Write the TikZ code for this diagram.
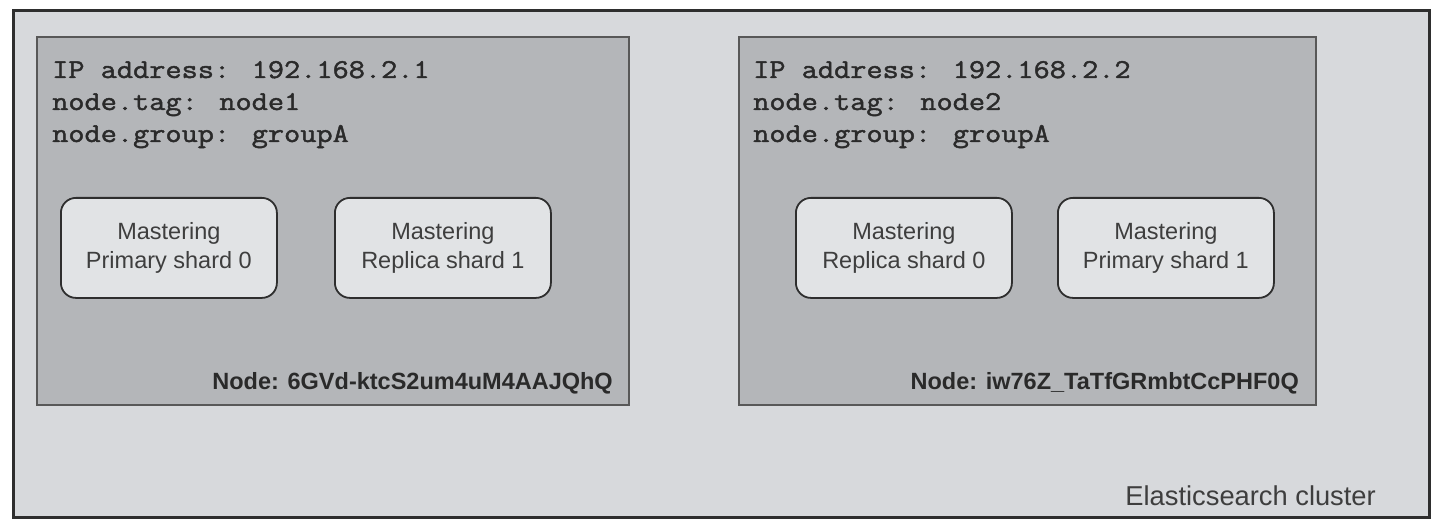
\documentclass[tikz,border=0pt]{standalone}
\usepackage{fontspec}
\setmainfont{Liberation Sans}
\newfontfamily\codefont[FakeBold=1.6,FakeStretch=1.155]{Latin Modern Mono}
\definecolor{clusterfill}{HTML}{D7D9DC}
\definecolor{nodefill}{HTML}{B4B6B9}
\definecolor{shardfill}{HTML}{E1E3E5}
\definecolor{edge}{HTML}{2E2E2E}
\definecolor{ink}{HTML}{2A2A2A}
\definecolor{softink}{HTML}{3E3E3E}
\tikzset{
  cluster/.style={draw=edge, line width=3pt, fill=clusterfill, anchor=north west, inner sep=0pt, outer sep=0pt},
  esnode/.style={draw=edge!80, line width=1.5pt, fill=nodefill, anchor=north west, inner sep=0pt, outer sep=0pt},
  shard/.style={draw=edge, line width=1.8pt, fill=shardfill, rounded corners=15pt, minimum width=216pt, minimum height=100pt, anchor=north west, inner sep=0pt, align=center, text=softink, font=\fontsize{23.5}{29}\selectfont},
  code/.style={anchor=base west, inner sep=0pt, text=ink, font=\codefont\fontsize{27.2}{32}\selectfont},
  nodeid/.style={anchor=base east, inner sep=0pt, text=ink, font=\bfseries\fontsize{23.5}{28}\selectfont},
  label/.style={anchor=base east, inner sep=0pt, text=softink, font=\fontsize{27.3}{32}\selectfont}
}
\begin{document}
\begin{tikzpicture}[x=1pt,y=-1pt]
\useasboundingbox[fill=white] (0,0) rectangle (1444,532);
\node[cluster, minimum width=1416pt, minimum height=506pt] (cl) at (13,11) {};
% node 1
\node[esnode, minimum width=592pt, minimum height=368pt] (n1) at (37,37) {};
\node[code] (ip1) at (52,78) {IP address: 192.168.2.1};
\node[code] (tag1) at (52,110) {node.tag: node1};
\node[code] (grp1) at (52,142) {node.group: groupA};
\node[shard] (s10) at (60,197) {Mastering\\Primary shard 0};
\node[shard] (s11) at (334,197) {Mastering\\Replica shard 1};
\node[nodeid] (id1) at (613,389) {Node: 6GVd-ktcS2um4uM4AAJQhQ};
% node 2
\node[esnode, minimum width=577pt, minimum height=368pt] (n2) at (739,37) {};
\node[code] (ip2) at (753,78) {IP address: 192.168.2.2};
\node[code] (tag2) at (753,110) {node.tag: node2};
\node[code] (grp2) at (753,142) {node.group: groupA};
\node[shard] (s20) at (795,197) {Mastering\\Replica shard 0};
\node[shard] (s21) at (1057,197) {Mastering\\Primary shard 1};
\node[nodeid] (id2) at (1299,389) {Node: iw76Z\_TaTfGRmbtCcPHF0Q};
% cluster label
\node[label] (lbl) at (1376,505) {Elasticsearch cluster};
\end{tikzpicture}
\end{document}
